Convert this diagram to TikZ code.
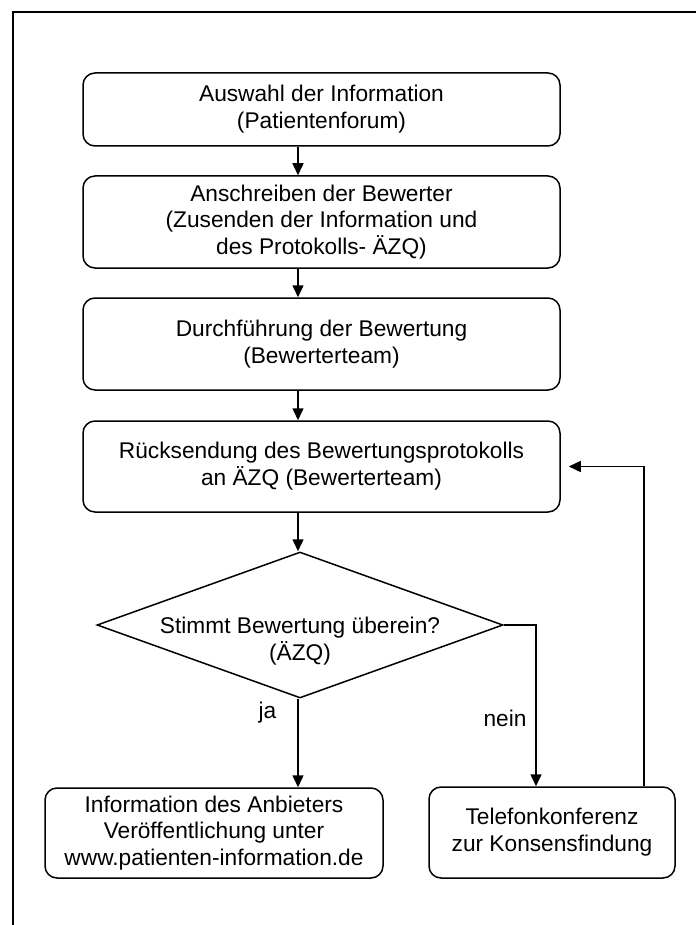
\documentclass[tikz,border=0pt]{standalone}
\usepackage{fontspec}
\setmainfont{Liberation Sans}
\usetikzlibrary{shapes.geometric, arrows.meta}

\tikzset{
    box/.style={draw, line width=0.75pt, rounded corners=6pt, align=center,
        minimum width=238.5pt, inner sep=2pt, font=\fontsize{11.35}{13.4}\selectfont},
    flow/.style={line width=0.75pt, -{Triangle[length=6pt, width=5.5pt]}},
    tag/.style={font=\fontsize{11.35}{13.4}\selectfont}
}

\begin{document}
\begin{tikzpicture}[x=0.5pt, y=-0.5pt]

    \useasboundingbox (0,0) rectangle (696,925);

    % Frame (cut off at right and bottom)
    \draw[line width=1pt] (13,925) -- (13,12) -- (696,12);

    % x of the main flow line
    \coordinate (ax) at (298,0);

    % Steps
    \node[box, minimum height=36.5pt] (auswahl) at (321.5,109.5) {Auswahl der Information\\(Patientenforum)};
    \node[box, minimum height=46pt] (anschreiben) at (321.5,222) {Anschreiben der Bewerter\\(Zusenden der Information und\\des Protokolls- ÄZQ)};
    \node[box, minimum height=46pt] (durchf) at (321.5,344) {Durchführung der Bewertung\\(Bewerterteam)};
    \node[box, minimum height=45.5pt] (rueck) at (321.5,466.5) {Rücksendung des Bewertungsprotokolls\\an ÄZQ (Bewerterteam)};

    % Decision
    \node[draw, diamond, line width=0.75pt, minimum width=203pt, minimum height=73pt, inner sep=0pt,
        font=\fontsize{11.35}{13.4}\selectfont] (stimmt) at (300,625)
        {\makebox[0pt]{\smash{\raisebox{-4pt}{\begin{tabular}[t]{@{}c@{}}Stimmt Bewertung überein?\\(ÄZQ)\end{tabular}}}}};

    % Outcomes
    \node[box, minimum width=169pt, minimum height=45pt] (info) at (214,833) {Information des Anbieters\\Veröffentlichung unter\\www.patienten-information.de};
    \node[box, minimum width=123pt, minimum height=45.5pt] (telefon) at (552,832.5) {Telefonkonferenz\\zur Konsensfindung};

    % Connectors
    \draw[flow] (auswahl.south -| ax) -- (anschreiben.north -| ax);
    \draw[flow] (anschreiben.south -| ax) -- (durchf.north -| ax);
    \draw[flow] (durchf.south -| ax) -- (rueck.north -| ax);
    \draw[flow] (rueck.south -| ax) -- (stimmt.north -| ax);
    \draw[flow] (stimmt.south -| ax) -- (info.north -| ax);
    \draw[flow] (stimmt.east) -| ([xshift=-8pt]telefon.north);
    \draw[flow] ([xshift=46pt]telefon.north) |- ([xshift=4pt]rueck.east);

    % Labels
    \node[tag] (ja) at (267.5,713) {ja};
    \node[tag] (nein) at (505,718) {nein};

\end{tikzpicture}
\end{document}
